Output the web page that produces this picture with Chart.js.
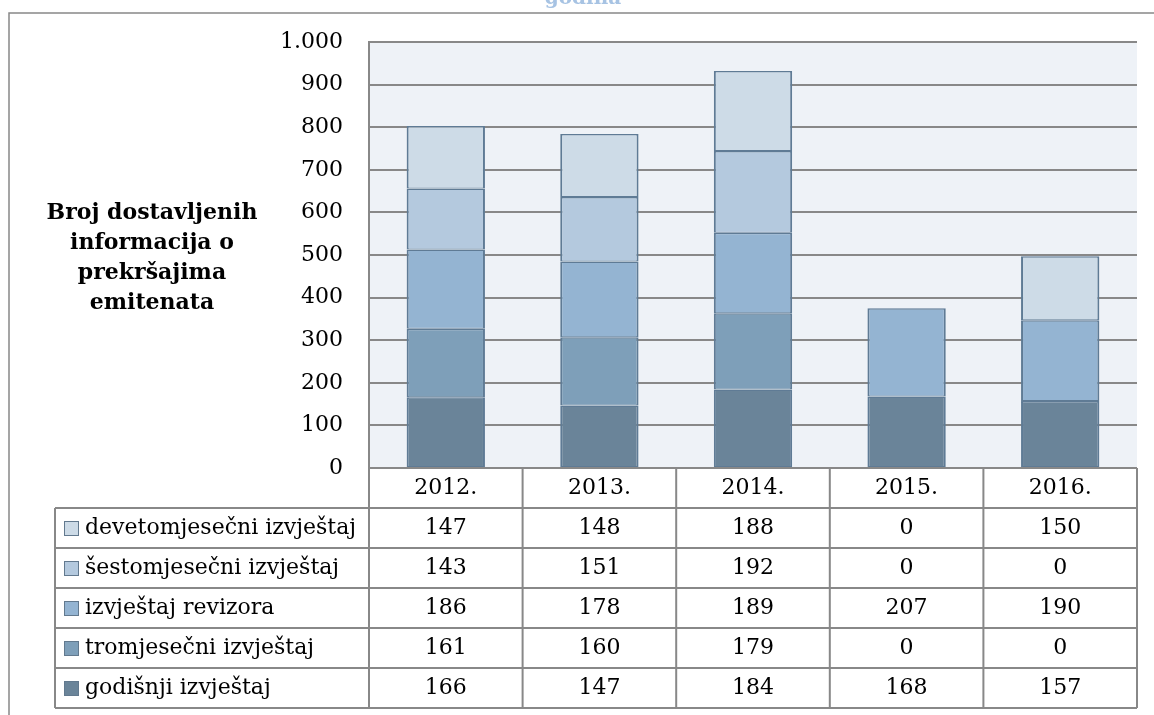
<!DOCTYPE html>
<html>
<head>
<meta charset="utf-8">
<script src="https://cdn.jsdelivr.net/npm/chart.js@4"></script>
<style>
  html, body { margin: 0; padding: 0; background: #fff; }
  #wrap { width: 1154px; height: 715px; }
</style>
</head>
<body>
<div id="wrap"><canvas id="chart"></canvas></div>
<script>
const years = ["2012.", "2013.", "2014.", "2015.", "2016."]
const godisnji = [166, 147, 184, 168, 157]
const tromjesecni = [161, 160, 179, 0, 0]
const revizor = [186, 178, 189, 207, 190]
const sestomjesecni = [143, 151, 192, 0, 0]
const devetomjesecni = [147, 148, 188, 0, 150]
const yTitle = ["Broj dostavljenih", "informacija o", "prekršajima", "emitenata"]
const topTitle = "godina"

const FONT = "'DejaVu Serif', serif"
const LINE = "#888888"

const series = [
  { label: "godišnji izvještaj", data: godisnji, color: "#6a8499" },
  { label: "tromjesečni izvještaj", data: tromjesecni, color: "#7e9fb9" },
  { label: "izvještaj revizora", data: revizor, color: "#94b4d2" },
  { label: "šestomjesečni izvještaj", data: sestomjesecni, color: "#b4c9de" },
  { label: "devetomjesečni izvještaj", data: devetomjesecni, color: "#cddbe7" },
]

// background, frame, y title and data table drawn around the chart area
const extras = {
  id: "extras",
  beforeDraw(chart) {
    const { ctx, chartArea: a } = chart
    ctx.save()
    ctx.fillStyle = "#eef2f7"
    ctx.fillRect(a.left, a.top, a.right - a.left, a.bottom - a.top)
    ctx.restore()
  },
  afterDraw(chart) {
    const { ctx, chartArea: a } = chart
    const xs = chart.scales.x
    const colW = (xs.right - xs.left) / years.length
    ctx.save()

    // outer frame
    ctx.strokeStyle = LINE
    ctx.lineWidth = 1.5
    ctx.beginPath()
    ctx.moveTo(9, 715)
    ctx.lineTo(9, 13)
    ctx.lineTo(1154, 13)
    ctx.stroke()

    // cut-off title
    ctx.fillStyle = "#a7c3e3"
    ctx.font = "bold 20px " + FONT
    ctx.textAlign = "center"
    ctx.textBaseline = "alphabetic"
    ctx.fillText(topTitle, 583, 4)

    // y axis title
    ctx.fillStyle = "#000"
    ctx.font = "bold 22px " + FONT
    ctx.textBaseline = "middle"
    yTitle.forEach((t, i) => ctx.fillText(t, 152, 213 + i * 30))

    // table
    const rowH = 40
    const top = a.bottom
    const legLeft = 55
    const rows = series.slice().reverse()
    ctx.strokeStyle = LINE
    ctx.lineWidth = 2
    ctx.beginPath()
    ctx.moveTo(xs.left, top)
    ctx.lineTo(xs.right, top)
    for (let i = 0; i <= years.length; i++) {
      const x = xs.left + i * colW
      ctx.moveTo(x, top)
      ctx.lineTo(x, top + rowH * (rows.length + 1))
    }
    for (let r = 1; r <= rows.length + 1; r++) {
      ctx.moveTo(legLeft, top + r * rowH)
      ctx.lineTo(xs.right, top + r * rowH)
    }
    ctx.moveTo(legLeft, top + rowH)
    ctx.lineTo(legLeft, top + rowH * (rows.length + 1))
    ctx.stroke()

    ctx.font = "22px " + FONT
    ctx.fillStyle = "#000"
    ctx.textAlign = "center"
    years.forEach((y, i) => ctx.fillText(y, xs.getPixelForValue(i), top + rowH / 2))

    rows.forEach((s, r) => {
      const cy = top + (r + 1) * rowH + rowH / 2
      ctx.fillStyle = s.color
      ctx.fillRect(64, cy - 7, 15, 15)
      ctx.strokeStyle = "#62798e"
      ctx.lineWidth = 1
      ctx.strokeRect(64.5, cy - 6.5, 14, 14)
      ctx.fillStyle = "#000"
      ctx.textAlign = "left"
      ctx.fillText(s.label, 85, cy)
      ctx.textAlign = "center"
      s.data.forEach((v, i) => ctx.fillText(String(v), xs.getPixelForValue(i), cy))
    })
    ctx.restore()
  },
}

new Chart(document.getElementById("chart"), {
  type: "bar",
  data: {
    labels: years,
    datasets: series.map(s => ({
      label: s.label,
      data: s.data,
      backgroundColor: s.color,
      borderColor: "#5f7b95",
      borderWidth: c => (c.raw === 0 ? 0 : { top: 1.5, bottom: 1, left: 2, right: 2 }),
      borderSkipped: false,
      categoryPercentage: 1,
      barPercentage: 0.51,
    })),
  },
  options: {
    responsive: true,
    maintainAspectRatio: false,
    animation: false,
    layout: { padding: { top: 42, right: 17, bottom: 247, left: 0 } },
    plugins: { legend: { display: false }, tooltip: { enabled: false } },
    scales: {
      x: { stacked: true, display: false },
      y: {
        stacked: true,
        min: 0,
        max: 1000,
        afterFit: scale => { scale.width = 369 },
        ticks: {
          stepSize: 100,
          padding: 26,
          color: "#000",
          font: { family: FONT, size: 22 },
          callback: v => v.toLocaleString("de-DE"),
        },
        grid: { color: LINE, lineWidth: 2, drawTicks: false },
        border: { color: LINE, width: 2 },
      },
    },
  },
  plugins: [extras],
})
</script>
</body>
</html>
